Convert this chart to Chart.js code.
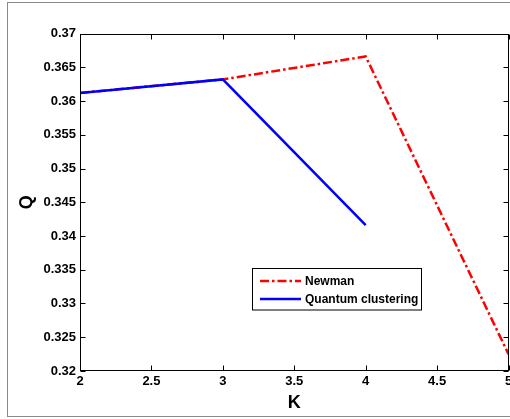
<!DOCTYPE html>
<html><head><meta charset="utf-8">
<script src="https://cdn.jsdelivr.net/npm/chart.js@4/dist/chart.umd.min.js"></script>
<style>html,body{margin:0;padding:0;background:#fff;overflow:hidden}canvas{display:block}</style>
</head><body>
<canvas id="c" width="510" height="419"></canvas>
<script>
const newmanK = [2, 3, 4, 5];
const newmanQ = [0.3612, 0.3632, 0.3666, 0.3225];
const quantumK = [2, 3, 4];
const quantumQ = [0.3612, 0.3632, 0.3416];
const seriesNames = ['Newman', 'Quantum clustering'];
const xTicks = [2, 2.5, 3, 3.5, 4, 4.5, 5];
const xTickLabels = ['2', '2.5', '3', '3.5', '4', '4.5', '5'];
const yTicks = [0.32, 0.325, 0.33, 0.335, 0.34, 0.345, 0.35, 0.355, 0.36, 0.365, 0.37];
const yTickLabels = ['0.32', '0.325', '0.33', '0.335', '0.34', '0.345', '0.35', '0.355', '0.36', '0.365', '0.37'];
const xTitle = 'K';
const yTitle = 'Q';

const FONT = '"Liberation Sans", Arial, Helvetica, sans-serif';

function toPoints(xs, ys) { return xs.map((x, i) => ({x: x, y: ys[i]})); }

const framePlugin = {
  id: 'frame',
  beforeDraw(chart) {
    const ctx = chart.ctx;
    ctx.save();
    ctx.fillStyle = '#ffffff';
    ctx.fillRect(0, 0, chart.width, chart.height);
    ctx.strokeStyle = '#8a8a8a';
    ctx.lineWidth = 1;
    ctx.strokeRect(7.5, 2.5, chart.width + 20, chart.height - 5);
    ctx.restore();
  },
  afterDraw(chart) {
    const ctx = chart.ctx;
    const a = chart.chartArea;
    const xs = chart.scales.x, ys = chart.scales.y;
    ctx.save();
    ctx.strokeStyle = '#000';
    ctx.lineWidth = 1;
    const L = Math.round(a.left) + 0.5, R = Math.round(a.right) - 0.5;
    const T = Math.round(a.top) + 0.5, B = Math.round(a.bottom) - 0.5;
    ctx.strokeRect(L, T, R - L, B - T);
    const tl = 5;
    ctx.beginPath();
    xTicks.forEach(v => {
      const px = Math.round(xs.getPixelForValue(v)) + 0.5;
      ctx.moveTo(px, B); ctx.lineTo(px, B - tl);
      ctx.moveTo(px, T); ctx.lineTo(px, T + tl);
    });
    yTicks.forEach(v => {
      const py = Math.round(ys.getPixelForValue(v)) + 0.5;
      ctx.moveTo(L, py); ctx.lineTo(L + tl, py);
      ctx.moveTo(R, py); ctx.lineTo(R - tl, py);
    });
    ctx.stroke();

    // legend
    const lx = 252.5, ly = 268.5, lw = 169, lh = 41.5;
    ctx.fillStyle = '#fff';
    ctx.fillRect(lx, ly, lw, lh);
    ctx.strokeStyle = '#000';
    ctx.strokeRect(lx, ly, lw, lh);
    const rows = [281, 299];
    chart.data.datasets.slice().sort((p, q) => p.legendIndex - q.legendIndex).forEach((ds, i) => {
      const y = rows[i];
      ctx.save();
      ctx.strokeStyle = ds.borderColor;
      ctx.lineWidth = ds.borderWidth;
      ctx.setLineDash(ds.borderDash || []);
      ctx.beginPath();
      ctx.moveTo(260, y); ctx.lineTo(301, y);
      ctx.stroke();
      ctx.restore();
      ctx.fillStyle = '#000';
      ctx.font = 'bold 12px ' + FONT;
      ctx.textBaseline = 'middle';
      ctx.textAlign = 'left';
      ctx.fillText(ds.label, 305, y + 0.5);
    });
    ctx.restore();
  }
};

new Chart(document.getElementById('c'), {
  type: 'line',
  data: {
    datasets: [
      { label: seriesNames[1], legendIndex: 1, data: toPoints(quantumK, quantumQ), borderColor: '#0000ff', borderWidth: 2.5, pointRadius: 0, tension: 0, fill: false },
      { label: seriesNames[0], legendIndex: 0, data: toPoints(newmanK, newmanQ), borderColor: '#ff0000', borderWidth: 2.5, borderDash: [9, 3, 2.5, 3], pointRadius: 0, tension: 0, fill: false }
    ]
  },
  options: {
    responsive: false,
    animation: false,
    devicePixelRatio: 1,
    layout: { padding: { left: 0, top: 33.5, right: 1.5, bottom: 0 } },
    plugins: { legend: { display: false }, tooltip: { enabled: false }, title: { display: false } },
    scales: {
      x: {
        type: 'linear', min: 2, max: 5,
        afterBuildTicks: s => { s.ticks = xTicks.map(v => ({value: v})); },
        afterFit: s => { s.height = 48; s.paddingLeft = 0; s.paddingRight = 0; },
        grid: { display: false, drawTicks: false },
        border: { display: false },
        ticks: { autoSkip: false, maxRotation: 0, padding: 3, color: '#000',
          font: { family: FONT, size: 13, weight: 'bold' },
          callback: v => xTickLabels[xTicks.indexOf(v)] },
        title: { display: true, text: xTitle, color: '#000', padding: { top: 0, bottom: 5 },
          font: { family: FONT, size: 18, weight: 'bold' } }
      },
      y: {
        type: 'linear', min: 0.32, max: 0.37,
        afterBuildTicks: s => { s.ticks = yTicks.map(v => ({value: v})); },
        afterFit: s => { s.width = 80; s.paddingTop = 0; s.paddingBottom = 0; },
        grid: { display: false, drawTicks: false },
        border: { display: false },
        ticks: { autoSkip: false, padding: 4, color: '#000',
          font: { family: FONT, size: 13, weight: 'bold' },
          callback: v => yTickLabels[yTicks.indexOf(v)] },
        title: { display: true, text: yTitle, color: '#000', padding: { top: 16, bottom: 0 },
          font: { family: FONT, size: 18, weight: 'bold' } }
      }
    }
  },
  plugins: [framePlugin]
});
</script>
</body></html>
